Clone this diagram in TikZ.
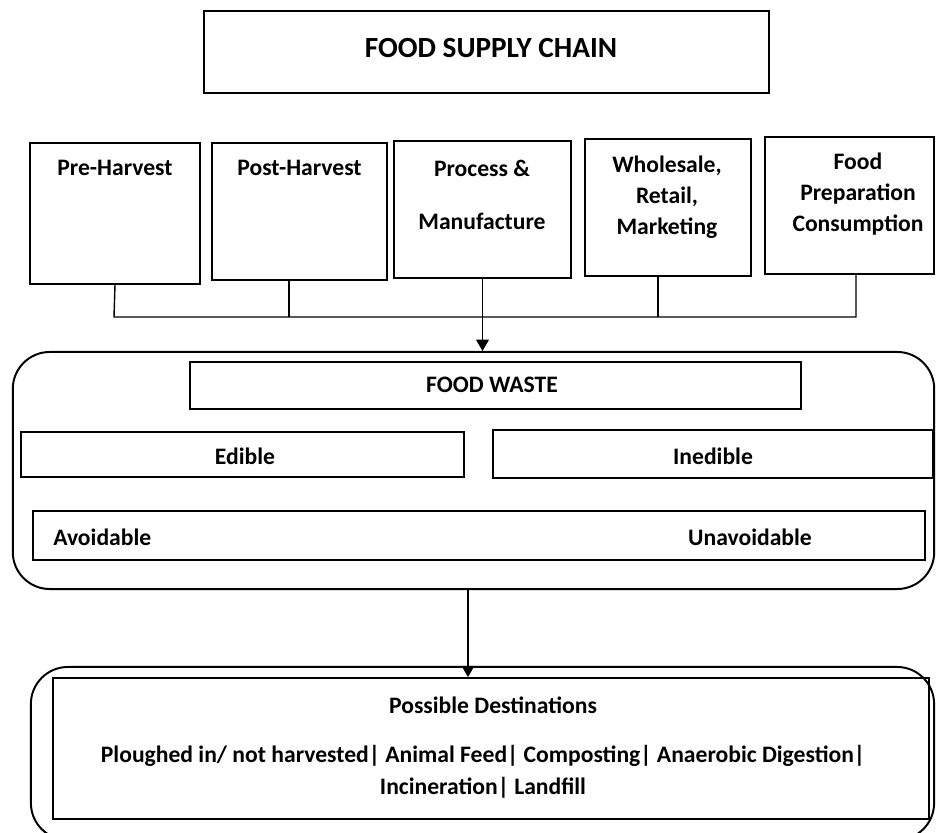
\documentclass[tikz,border=0pt]{standalone}
\usepackage{fontspec}
\setmainfont{Carlito}
\usetikzlibrary{arrows.meta}
\tikzset{
  box/.style={draw,line width=1.3pt,inner sep=0pt},
  pill/.style={draw,line width=1.4pt,rounded corners=0.925cm,inner sep=0pt},
  lbl/.style={font=\fontsize{16.8}{22}\selectfont\bfseries,align=center,inner sep=0pt},
  wire/.style={line width=1pt},
  arr/.style={line width=1pt,-{Triangle[width=9pt,length=8pt]}}
}
\begin{document}
\begin{tikzpicture}[x=0.025cm,y=-0.025cm]
		\useasboundingbox (0,0) rectangle (936,833);
		% Kaesten
		\node (chain) at (486.5,52) [box,minimum width=14.125cm,minimum height=2.05cm] {};
		\node (pre) at (115,213.5) [box,minimum width=4.25cm,minimum height=3.525cm] {};
		\node (post) at (299.5,211.5) [box,minimum width=4.375cm,minimum height=3.425cm] {};
		\node (proc) at (482.5,209.5) [box,minimum width=4.425cm,minimum height=3.425cm] {};
		\node (whole) at (668,207.5) [box,minimum width=4.15cm,minimum height=3.425cm] {};
		\node (prep) at (849.5,205.5) [box,minimum width=4.225cm,minimum height=3.425cm] {};

		\node (wastebox) at (473.5,470.5) [pill,minimum width=23.03cm,minimum height=5.925cm] {};
		\node (waste) at (495.5,385.5) [box,minimum width=15.275cm,minimum height=1.175cm] {};
		\node (edible) at (242.5,454.5) [box,minimum width=11.075cm,minimum height=1.125cm] {};
		\node (inedible) at (713,454) [box,minimum width=11cm,minimum height=1.2cm] {};
		\node (avoid) at (479,535.5) [box,minimum width=22.3cm,minimum height=1.225cm] {};

		\node (destbox) at (482.5,753.5) [pill,minimum width=22.575cm,minimum height=4.325cm] {};
		\node (dest) at (491,748.5) [box,minimum width=21.9cm,minimum height=3.525cm] {};

		% Texte
		\node (chaintxt) at (491,48) [lbl,font=\fontsize{20.8}{24}\selectfont\bfseries] {FOOD SUPPLY CHAIN};
		\node (pretxt) at (115,168) [lbl] {Pre-Harvest};
		\node (posttxt) at (299.5,168) [lbl] {Post-Harvest};
		\node (proctxt) at (482,195) [lbl] {Process \&\\[16pt]Manufacture};
		\node (wholetxt) at (667,197) [lbl] {Wholesale,\\Retail,\\Marketing};
		\node (preptxt) at (858,194.5) [lbl] {Food\\Preparation\\Consumption};
		\node (wastetxt) at (492,385) [lbl] {FOOD WASTE};
		\node (edibletxt) at (245,456) [lbl] {Edible};
		\node (inedibletxt) at (713,456) [lbl] {Inedible};
		\node (avoidtxt) at (53,537) [lbl,anchor=west] {Avoidable};
		\node (unavoidtxt) at (750,537) [lbl] {Unavoidable};
		\node (desttxt) at (493,705) [lbl] {Possible Destinations};
		\node (destlist) at (483,772) [lbl,font=\fontsize{16.8}{22.7}\selectfont\bfseries] {Ploughed in/ not harvested| Animal Feed| Composting| Anaerobic Digestion|\\Incineration| Landfill};

		% Kanten
		\coordinate (busL) at (114,317);
		\coordinate (busR) at (856,317);
		\coordinate (tapB) at (289,317);
		\coordinate (tapD) at (658,317);
		\coordinate (drop) at (468,589);
		\draw[wire] (pre.south) -- (busL) -- (busR) -- (busR |- prep.south);
		\draw[wire] (tapB) -- (tapB |- post.south);
		\draw[wire] (tapD) -- (tapD |- whole.south);
		\draw[arr] (proc.south) -- (proc.south |- wastebox.north);
		\draw[arr] (drop) -- (drop |- dest.north);
	\end{tikzpicture}
\end{document}
